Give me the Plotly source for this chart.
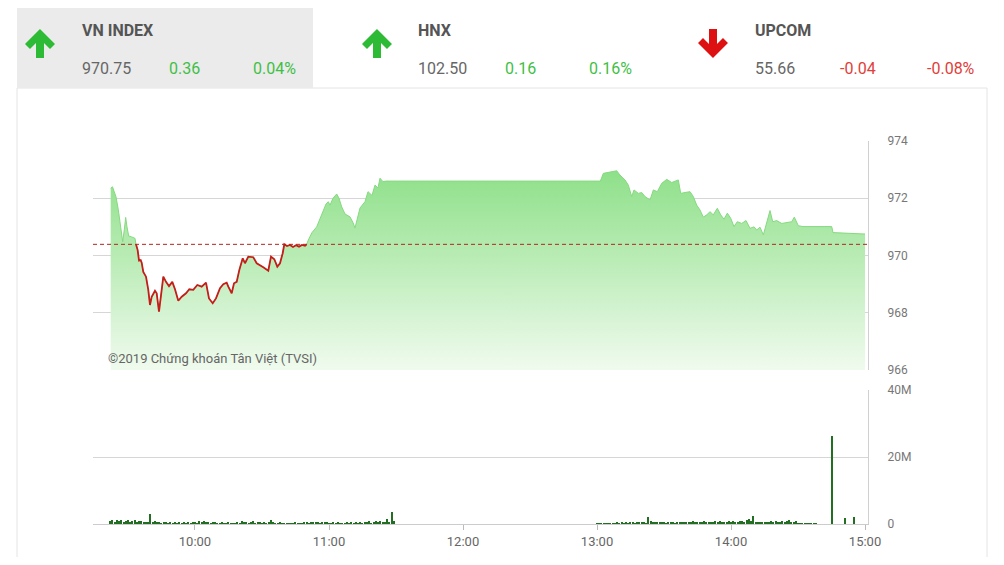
import plotly.graph_objects as go
import pandas as pd

DAY = "2019-06-05 "
REF = 970.39

PRICE_TIMES = [
    "09:22:15", "09:23:04", "09:23:44", "09:24:38", "09:25:40", "09:26:44", "09:27:38", "09:28:21",
    "09:28:58", "09:29:33", "09:30:19", "09:31:39", "09:33:08", "09:33:35",
    "09:34:20", "09:34:56", "09:35:41", "09:36:08", "09:36:51", "09:38:04", "09:39:05", "09:39:51",
    "09:40:37", "09:42:05", "09:42:51", "09:43:53", "09:44:47", "09:45:49", "09:47:01", "09:48:22",
    "09:49:50", "09:51:03", "09:52:31", "09:54:03", "09:55:58", "09:57:27", "09:59:14", "10:01:02",
    "10:03:00", "10:04:56", "10:06:16", "10:07:56", "10:09:24", "10:11:12", "10:12:40", "10:14:11",
    "10:14:55", "10:16:26", "10:17:28", "10:18:40", "10:19:50", "10:21:22", "10:22:23", "10:23:52",
    "10:26:06", "10:27:38", "10:30:35", "10:32:49", "10:34:02", "10:35:31", "10:36:51", "10:38:04",
    "10:39:16", "10:39:59", "10:41:11", "10:42:32", "10:43:53", "10:45:13", "10:46:34", "10:47:55",
    "10:49:15", "10:50:01",
    "10:50:44", "10:52:23", "10:54:29", "10:55:58", "10:57:27", "10:58:40", "10:59:41", "11:00:27",
    "11:01:47", "11:03:27", "11:04:29", "11:05:41", "11:07:10", "11:09:24", "11:10:45", "11:11:38",
    "11:12:32", "11:13:53", "11:16:07", "11:17:28", "11:19:15", "11:20:36", "11:21:56", "11:22:50",
    "11:24:11", "11:25:31", "11:30:00", "13:00:00", "13:01:30", "13:02:50", "13:05:04", "13:06:43",
    "13:08:49", "13:10:18", "13:12:32", "13:14:01", "13:15:32", "13:16:34", "13:18:30", "13:20:01",
    "13:21:29", "13:23:44", "13:25:13", "13:27:00", "13:28:58", "13:31:13", "13:33:27", "13:36:24",
    "13:37:29", "13:39:24", "13:41:38", "13:43:07", "13:44:38", "13:46:07", "13:47:36", "13:49:07",
    "13:50:36", "13:52:04", "13:53:52", "13:55:23", "13:56:52", "13:58:21", "13:59:52", "14:01:20",
    "14:02:49", "14:04:47", "14:06:43", "14:08:30", "14:10:18", "14:11:30", "14:12:59", "14:14:28",
    "14:15:40", "14:16:42", "14:17:28", "14:18:40", "14:20:28", "14:22:42", "14:24:56", "14:27:11",
    "14:28:20", "14:30:08", "14:32:14", "14:45:05", "14:45:40", "15:00:00",
]

PRICES = [
    972.35, 972.4, 972.25, 972.05, 971.6, 971.0, 970.48, 970.9, 971.33, 971.0, 970.68, 970.65, 970.6, 970.39,
    970.19, 969.82, 969.84, 969.75, 969.43, 969.26, 968.8, 968.27, 968.56, 968.77, 968.68, 968.04, 968.68,
    969.26, 969.08, 968.93, 969.08, 968.82, 968.42, 968.56, 968.68, 968.82, 968.8, 968.97, 968.91, 969.05,
    968.5, 968.33, 968.5, 968.86, 969.0, 969.05, 968.91, 968.68, 969.03, 969.08, 969.49, 969.9, 969.73,
    969.96, 969.94, 969.73, 969.59, 969.47, 969.96, 969.87, 969.61, 969.73, 970.08, 970.39, 970.33, 970.37,
    970.3, 970.36, 970.31, 970.37, 970.34, 970.39,
    970.54, 970.8, 971.0, 971.3, 971.6, 971.8, 971.88, 971.76, 972.0, 972.15, 972.0, 971.7, 971.45, 971.35,
    971.15, 970.96, 971.24, 971.66, 971.88, 972.23, 972.1, 972.46, 972.36, 972.7, 972.58, 972.6, 972.6,
    972.6, 972.6, 972.87, 972.9, 972.92, 972.96, 972.81, 972.64, 972.46, 972.06, 972.29, 972.17, 972.2,
    972.06, 971.94, 972.29, 972.23, 972.52, 972.66, 972.55, 972.64, 972.17, 972.2, 972.23, 972.06, 971.76,
    971.59, 971.34, 971.42, 971.53, 971.42, 971.65, 971.42, 971.27, 971.48, 971.3, 971.01, 971.18, 971.12,
    971.22, 970.95, 971.0, 970.89, 970.99, 970.72, 971.07, 971.36, 971.57, 971.18, 971.22, 971.12, 971.14,
    971.18, 971.34, 971.04, 971.01, 971.01, 970.8, 970.75,
]

# per-minute volumes (millions of shares)
VOL_AM_START = "09:22"
VOL_AM = [
    0.9, 1.2, 0.6, 1.1, 0.8, 1.3, 0.7, 1.0, 1.2, 0.5, 0.9, 1.1, 0.6, 1.0, 0.8, 0.4,
    0.7, 0.5, 3.0, 0.5, 0.8, 0.4, 0.6, 0.3, 0.5, 0.4, 0.3, 0.5, 0.2, 0.4, 0.3, 0.5,
    0.3, 0.4, 0.2, 0.5, 0.3, 0.6, 0.4, 0.3, 0.8, 0.5, 0.9, 0.4, 0.7, 0.3, 0.5, 0.4,
    0.3, 0.2, 0.4, 0.3, 0.2, 0.5, 0.3, 0.2, 0.3, 0.4, 0.2, 1.0, 0.6, 0.4, 0.3, 0.5,
    0.8, 0.3, 0.4, 0.5, 0.3, 0.4, 0.2, 0.5, 1.2, 0.4, 0.3, 0.2, 0.4, 0.3, 0.2, 0.3,
    0.2, 0.3, 0.2, 0.4, 0.3, 0.2, 0.3, 0.4, 0.5, 0.3, 0.6, 0.4, 0.7, 0.5, 0.3, 0.6,
    0.4, 0.5, 0.3, 0.2, 0.4, 0.3, 0.5, 0.2, 0.3, 0.2, 0.4, 0.3, 0.5, 0.2, 0.4, 0.3,
    0.6, 0.3, 0.5, 0.4, 0.8, 0.3, 0.5, 0.9, 0.4, 1.0, 0.6, 0.4, 1.6, 0.7, 3.7, 0.8,
]
VOL_PM_START = "13:00"
VOL_PM = [
    0.3, 0.1, 0.2, 0.1, 0.3, 0.2, 0.1, 0.3, 0.2, 0.4,
    0.3, 0.4, 0.2, 0.5, 0.3, 0.4, 0.6, 0.3, 0.5, 0.4,
    0.5, 0.4, 0.3, 2.2, 0.8, 0.6, 0.5, 0.7, 0.4, 0.6,
    0.5, 0.3, 0.6, 0.4, 0.5, 0.3, 0.7, 0.4, 0.6, 0.5,
    0.4, 0.6, 0.5, 0.8, 0.4, 0.7, 0.5, 0.6, 0.9, 0.5,
    0.7, 0.4, 0.6, 0.8, 0.5, 0.9, 0.6, 0.7, 0.5, 0.8,
    0.6, 0.9, 0.5, 0.7, 0.8, 1.0, 0.6, 1.1, 1.5, 0.9,
    2.4, 0.7, 0.5, 0.6, 0.4, 0.5, 0.7, 0.4, 0.8, 0.6,
    0.9, 0.5, 0.7, 1.0, 0.6, 0.8, 1.1, 0.7, 0.5, 0.9,
    0.3, 0.2, 0.1, 0.2, 0.1, 0.1, 0.2, 0.1, 0.3,
]
VOL_LATE_TIMES = ["14:45:00", "14:51:00", "14:55:00"]
VOL_LATE = [26.3, 1.9, 2.0]

HOUR_TICKS = ["10:00", "11:00", "12:00", "13:00", "14:00", "15:00"]
PRICE_TICKS = [966, 968, 970, 972, 974]
VOL_TICKS = [0, 20, 40]
VOL_TICK_TEXT = ["0", "20M", "40M"]

HEADER = [
    # name, value, change, pct, up?
    ("VN INDEX", "970.75", "0.36", "0.04%", True),
    ("HNX", "102.50", "0.16", "0.16%", True),
    ("UPCOM", "55.66", "-0.04", "-0.08%", False),
]

assert len(PRICE_TIMES) == len(PRICES)

# ---------------- layout helpers (screen pixel -> paper) ----------------
BODY = 8                     # default page margin around the plot div
FIG_W, FIG_H = 1004 - 2 * BODY, 565 - 2 * BODY
L, R, T, B = 93, 868, 141, 524   # plot area in screen pixels
W, H = R - L, B - T


def px(x):
    return (x - L) / W


def py(y):
    return (B - y) / H


t_price = [DAY + t for t in PRICE_TIMES]
red = [p if p <= REF + 1e-9 else None for p in PRICES]

am_times = pd.date_range(DAY + VOL_AM_START, periods=len(VOL_AM), freq="min")
pm_times = pd.date_range(DAY + VOL_PM_START, periods=len(VOL_PM), freq="min")
vol_x = list(am_times) + list(pm_times) + [pd.Timestamp(DAY + t) for t in VOL_LATE_TIMES]
vol_y = VOL_AM + VOL_PM + VOL_LATE

GREEN_TXT = "#3fbf46"
RED_TXT = "#e0403a"
FONT = "Roboto"

fig = go.Figure()

fig.add_trace(go.Scatter(
    x=t_price, y=PRICES, mode="lines",
    line=dict(color="#86d981", width=1),
    fill="tozeroy",
    fillgradient=dict(type="vertical", colorscale=[[0, "#f1fbef"], [1, "#8ee089"]], start=966, stop=973),
    xaxis="x", yaxis="y", hoverinfo="skip", showlegend=False,
))
fig.add_trace(go.Scatter(
    x=t_price, y=red, mode="lines", connectgaps=False,
    line=dict(color="#c41e1a", width=1.8),
    xaxis="x", yaxis="y", hoverinfo="skip", showlegend=False,
))
fig.add_trace(go.Bar(
    x=vol_x, y=vol_y, width=28000,
    marker=dict(color="#226e22", line=dict(width=0)),
    xaxis="x2", yaxis="y2", hoverinfo="skip", showlegend=False,
))

xrange = [DAY + "09:14:20", DAY + "15:01:20"]

shapes = [
    # panel border
    dict(type="rect", xref="paper", yref="paper", x0=px(17), x1=px(987), y0=py(88), y1=py(600),
         line=dict(color="#e4e4e4", width=1), fillcolor="rgba(0,0,0,0)", layer="below"),
    # VN INDEX highlighted box
    dict(type="rect", xref="paper", yref="paper", x0=px(17), x1=px(313), y0=py(8), y1=py(88),
         line=dict(width=0), fillcolor="#ebebeb", layer="below"),
    # reference line
    dict(type="line", xref="paper", yref="y", x0=0, x1=1, y0=REF, y1=REF,
         line=dict(color="#b3261e", width=1, dash="4px,3px")),
]


def up_arrow(cx, color):
    pts = [(cx, 29), (cx + 15, 44), (cx + 10, 49), (cx + 4, 43), (cx + 4, 58), (cx - 4, 58),
           (cx - 4, 43), (cx - 10, 49), (cx - 15, 44)]
    d = "M " + " L ".join(f"{px(a):.5f},{py(b):.5f}" for a, b in pts) + " Z"
    return dict(type="path", xref="paper", yref="paper", path=d, fillcolor=color, line=dict(width=0))


def down_arrow(cx, color):
    pts = [(cx, 58), (cx + 15, 43), (cx + 10, 38), (cx + 4, 44), (cx + 4, 29), (cx - 4, 29),
           (cx - 4, 44), (cx - 10, 38), (cx - 15, 43)]
    d = "M " + " L ".join(f"{px(a):.5f},{py(b):.5f}" for a, b in pts) + " Z"
    return dict(type="path", xref="paper", yref="paper", path=d, fillcolor=color, line=dict(width=0))


annotations = []
box_x = [(40, 80, 167, 298), (377, 416, 503, 634), (713, 753, 838, 977)]
for (name, val, chg, pct, up), (ax, tx, cx, rx) in zip(HEADER, box_x):
    shapes.append(up_arrow(ax, "#2dbb36") if up else down_arrow(ax, "#dd1111"))
    c = GREEN_TXT if up else RED_TXT
    annotations += [
        dict(text=f"<b>{name}</b>", x=px(tx), y=py(31), xanchor="left", yanchor="middle",
             font=dict(family=FONT, size=16, color="#555555")),
        dict(text=val, x=px(tx), y=py(68), xanchor="left", yanchor="middle",
             font=dict(family=FONT, size=16, color="#666666")),
        dict(text=chg, x=px(cx), y=py(68), xanchor="left", yanchor="middle",
             font=dict(family=FONT, size=16, color=c)),
        dict(text=pct, x=px(rx), y=py(68), xanchor="right", yanchor="middle",
             font=dict(family=FONT, size=16, color=c)),
    ]

annotations.append(dict(text="©2019 Chứng khoán Tân Việt (TVSI)", x=px(106), y=py(358),
                        xanchor="left", yanchor="middle",
                        font=dict(family=FONT, size=13, color="#666666")))
for a in annotations:
    a.update(xref="paper", yref="paper", showarrow=False)

grid = "#d6d6d6"
fig.update_layout(
    width=FIG_W, height=FIG_H, autosize=False,
    margin=dict(l=L - BODY, r=FIG_W - (R - BODY), t=T - BODY, b=FIG_H - (B - BODY), pad=0),
    paper_bgcolor="white", plot_bgcolor="white",
    font=dict(family=FONT, color="#666666"),
    bargap=0,
    xaxis=dict(domain=[0, 1], anchor="y", type="date", range=xrange, showticklabels=False,
               showgrid=False, zeroline=False, showline=False, ticks="", automargin=False),
    yaxis=dict(domain=[py(370), 1], anchor="x", range=[966, 974], tickvals=PRICE_TICKS, side="right",
               showgrid=True, gridcolor=grid, gridwidth=1, zeroline=False, showline=True,
               linecolor="#d0d0d0", ticks="", ticklabelstandoff=16, automargin=False,
               tickfont=dict(family=FONT, size=12, color="#777777")),
    xaxis2=dict(domain=[0, 1], anchor="y2", type="date", range=xrange,
                tickvals=[DAY + h for h in HOUR_TICKS], ticktext=HOUR_TICKS,
                ticks="outside", ticklen=5, tickcolor="#bbbbbb", showline=True, linecolor="#cccccc",
                showgrid=False, zeroline=False, automargin=False,
                tickfont=dict(family=FONT, size=13, color="#666666")),
    yaxis2=dict(domain=[0, py(390)], anchor="x2", range=[0, 40], tickvals=VOL_TICKS, ticktext=VOL_TICK_TEXT,
                side="right", showgrid=True, gridcolor=grid, gridwidth=1, zeroline=False, showline=True,
                linecolor="#d0d0d0", ticks="", ticklabelstandoff=16, automargin=False,
                tickfont=dict(family=FONT, size=12, color="#777777")),
    shapes=shapes,
    annotations=annotations,
)

fig.write_html("out.html")
